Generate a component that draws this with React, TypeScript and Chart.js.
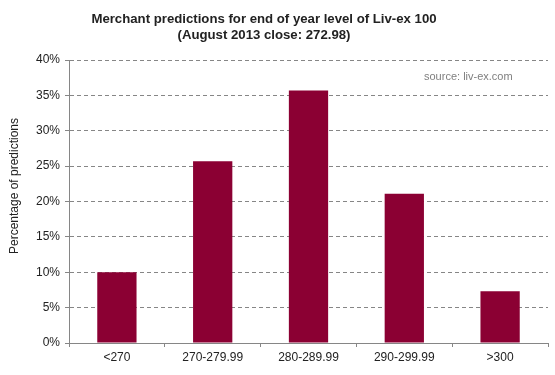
import React, { useEffect, useRef } from "react";
import { Chart, registerables } from "chart.js";

Chart.register(...registerables);

const categories = ["<270", "270-279.99", "280-289.99", "290-299.99", ">300"];
const values = [10.0, 25.7, 35.7, 21.1, 7.3];
const titleLines = ["Merchant predictions for end of year level of Liv-ex 100", "(August 2013 close: 272.98)"];
const sourceText = "source: liv-ex.com";
const yAxisTitle = "Percentage of predictions";

const overlay = {
  id: "overlay",
  afterDraw(chart: any) {
    const ctx = chart.ctx;
    ctx.save();
    ctx.fillStyle = "#222222";
    ctx.font = "bold 13.2px 'Liberation Sans', Arial, sans-serif";
    ctx.textAlign = "center";
    ctx.textBaseline = "middle";
    ctx.fillText(titleLines[0], 264, 19);
    ctx.fillText(titleLines[1], 264, 35);
    ctx.fillStyle = "#7f7f7f";
    ctx.font = "11px 'Liberation Sans', Arial, sans-serif";
    ctx.textAlign = "left";
    ctx.fillText(sourceText, 424, 77);
    ctx.fillStyle = "#222222";
    ctx.font = "12px 'Liberation Sans', Arial, sans-serif";
    ctx.textAlign = "center";
    ctx.translate(15, 186);
    ctx.rotate(-Math.PI / 2);
    ctx.fillText(yAxisTitle, 0, 0);
    ctx.restore();
  },
};

export default function App() {
  const ref = useRef<HTMLCanvasElement>(null);
  useEffect(() => {
    const chart = new Chart(ref.current!, {
      type: "bar",
      data: {
        labels: categories,
        datasets: [
          {
            data: values,
            backgroundColor: "#8b0033",
            barPercentage: 0.41,
            categoryPercentage: 1,
          },
        ],
      },
      options: {
        animation: false,
        responsive: false,
        maintainAspectRatio: false,
        layout: { padding: { top: 60, right: 7, left: 0, bottom: 0 } },
        plugins: {
          legend: { display: false },
          tooltip: { enabled: false },
          title: { display: false },
        },
        scales: {
          x: {
            offset: true,
            grid: {
              offset: true,
              drawOnChartArea: false,
              drawTicks: true,
              tickLength: 4,
              color: "#868686",
            },
            border: { color: "#868686", width: 1 },
            ticks: {
              color: "#222222",
              padding: 3,
              font: { family: "'Liberation Sans', Arial, sans-serif", size: 12 },
              maxRotation: 0,
            },
            afterFit(scale: any) {
              scale.height = 32;
            },
          },
          y: {
            min: 0,
            max: 40,
            ticks: {
              stepSize: 5,
              color: "#222222",
              padding: 5,
              font: { family: "'Liberation Sans', Arial, sans-serif", size: 12 },
              callback: (v: any) => v + "%",
            },
            grid: {
              color: "#868686",
              tickLength: 4,
              tickColor: "#868686",
              tickBorderDash: [],
            } as any,
            border: { color: "#868686", width: 1, dash: [4, 3] } as any,
            title: { display: false },
            afterFit(scale: any) {
              scale.width = 69;
            },
          },
        },
      },
      plugins: [overlay],
    });
    return () => chart.destroy();
  }, []);
  return (
    <div style={{ position: "absolute", left: 0, top: 0, width: 555, height: 375, background: "#fff" }}>
      <canvas ref={ref} width={555} height={375} style={{ width: 555, height: 375 }} />
    </div>
  );
}
